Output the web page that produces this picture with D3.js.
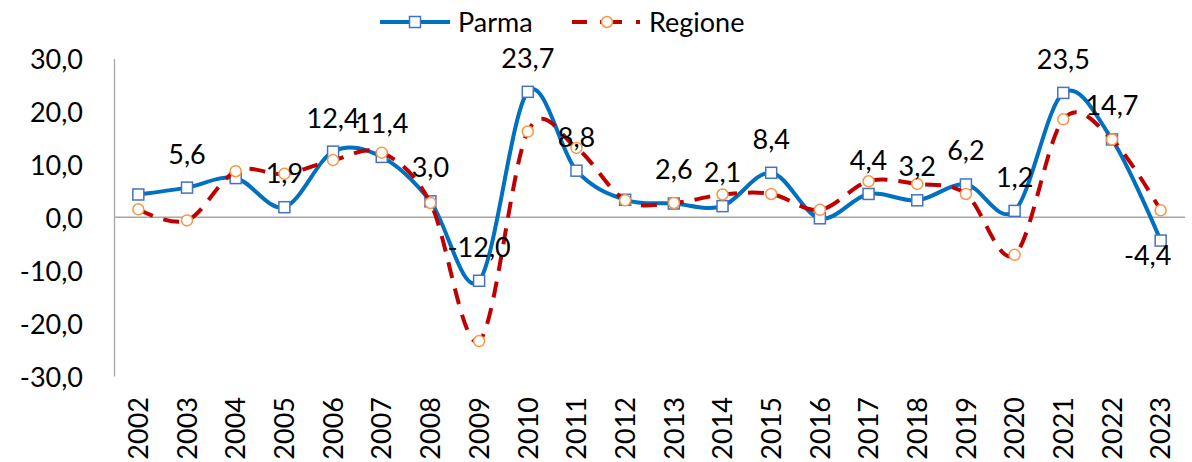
<!DOCTYPE html>
<html>
<head>
<meta charset="utf-8">
<script src="https://cdn.jsdelivr.net/npm/d3@7"></script>
<style>
  body { margin: 0; background: #fff; }
  text { font-family: Lato, "Open Sans", sans-serif; fill: #000; }
</style>
</head>
<body>
<script>
const years = ["2002","2003","2004","2005","2006","2007","2008","2009","2010","2011","2012",
               "2013","2014","2015","2016","2017","2018","2019","2020","2021","2022","2023"]
const parma   = [4.3, 5.6, 7.4, 1.9, 12.4, 11.4, 3.0, -12.0, 23.7, 8.8, 3.3,
                 2.6, 2.1, 8.4, -0.2, 4.4, 3.2, 6.2, 1.2, 23.5, 14.7, -4.4]
const regione = [1.5, -0.6, 8.7, 8.2, 10.8, 12.2, 2.7, -23.4, 16.2, 13.1, 3.2,
                 2.7, 4.3, 4.4, 1.4, 6.8, 6.3, 4.4, -7.1, 18.5, 14.7, 1.3]
const yTicks = [-30, -20, -10, 0, 10, 20, 30]
// anni con etichetta dati (serie Parma)
const labelledYears = ["2003","2005","2006","2007","2008","2009","2010","2011","2013","2014",
                       "2015","2017","2018","2019","2020","2021","2022","2023"]
const labelBelow = ["2023"]

const WIDTH = 1192
const HEIGHT = 462
const fmt = v => v.toFixed(1).replace(".", ",")

const svg = d3.select("body").append("svg")
    .attr("width", WIDTH)
    .attr("height", HEIGHT)

const x = d3.scaleBand().domain(years).range([114, 1185])
const cx = d => x(d) + x.bandwidth() / 2
const y = d3.scaleLinear().domain([-30, 30]).range([376, 58.5])

// Asse Y
const yAxis = svg.append("g")
    .attr("transform", "translate(114,0)")
    .call(d3.axisLeft(y).tickValues(yTicks).tickSize(0).tickSizeOuter(0).tickPadding(31).tickFormat(fmt))
yAxis.select(".domain").attr("stroke", "#a6a6a6").attr("stroke-width", 1.3)
yAxis.selectAll("text").style("font-size", "27px").attr("dy", "0.38em")

// linea dello zero
svg.append("line")
    .attr("x1", x.range()[0]).attr("x2", x.range()[1])
    .attr("y1", y(0)).attr("y2", y(0))
    .attr("stroke", "#a6a6a6").attr("stroke-width", 1.3)

// Asse X (etichette ruotate)
const xAxis = svg.append("g")
    .attr("transform", "translate(0,397)")
    .call(d3.axisBottom(x).tickSize(0))
xAxis.select(".domain").remove()
xAxis.selectAll("text")
    .style("font-size", "27px")
    .style("text-anchor", "end")
    .attr("transform", "rotate(-90)")
    .attr("x", 0).attr("y", 0).attr("dy", "0.36em")

// Linee
const smoothLine = d3.line().x((d, i) => cx(years[i])).y(d => y(d)).curve(d3.curveCardinal.tension(0))

svg.append("path")
    .datum(parma)
    .attr("d", smoothLine)
    .attr("fill", "none")
    .attr("stroke", "#0070c0")
    .attr("stroke-width", 4)

svg.append("g").selectAll("rect")
    .data(parma)
    .enter()
    .append("rect")
    .attr("x", (d, i) => cx(years[i]) - 5.5)
    .attr("y", d => y(d) - 5.5)
    .attr("width", 11).attr("height", 11)
    .attr("fill", "#fff")
    .attr("stroke", "#4472c4").attr("stroke-width", 1.5)

svg.append("path")
    .datum(regione)
    .attr("d", smoothLine)
    .attr("fill", "none")
    .attr("stroke", "#c00000")
    .attr("stroke-width", 4)
    .attr("stroke-dasharray", "16,11")

svg.append("g").selectAll("circle")
    .data(regione)
    .enter()
    .append("circle")
    .attr("cx", (d, i) => cx(years[i]))
    .attr("cy", d => y(d))
    .attr("r", 5.5)
    .attr("fill", "#fff")
    .attr("stroke", "#f79646").attr("stroke-width", 1.5)

// Etichette dati
svg.append("g").selectAll("text")
    .data(years.map((yr, i) => ({ yr, v: parma[i] })).filter(d => labelledYears.includes(d.yr)))
    .enter()
    .append("text")
    .text(d => fmt(d.v))
    .attr("x", d => labelBelow.includes(d.yr) ? cx(d.yr) - 13 : cx(d.yr))
    .attr("y", d => labelBelow.includes(d.yr) ? y(d.v) + 24 : y(d.v) - 24)
    .attr("text-anchor", "middle")
    .style("font-size", "27px")

// Legenda
const legend = svg.append("g")
legend.append("line")
    .attr("x1", 380).attr("x2", 450).attr("y1", 22).attr("y2", 22)
    .attr("stroke", "#0070c0").attr("stroke-width", 4)
legend.append("rect")
    .attr("x", 409.5).attr("y", 16.5).attr("width", 11).attr("height", 11)
    .attr("fill", "#fff").attr("stroke", "#4472c4").attr("stroke-width", 1.5)
legend.append("text").text("Parma").attr("x", 458).attr("y", 32).style("font-size", "27px")

legend.append("line")
    .attr("x1", 572).attr("x2", 640).attr("y1", 22).attr("y2", 22)
    .attr("stroke", "#c00000").attr("stroke-width", 4)
    .attr("stroke-dasharray", "15,13,22,14,4,100")
legend.append("circle")
    .attr("cx", 607).attr("cy", 22).attr("r", 5.5)
    .attr("fill", "#fff").attr("stroke", "#f79646").attr("stroke-width", 1.5)
legend.append("text").text("Regione").attr("x", 649).attr("y", 32).style("font-size", "27px")
</script>
</body>
</html>
